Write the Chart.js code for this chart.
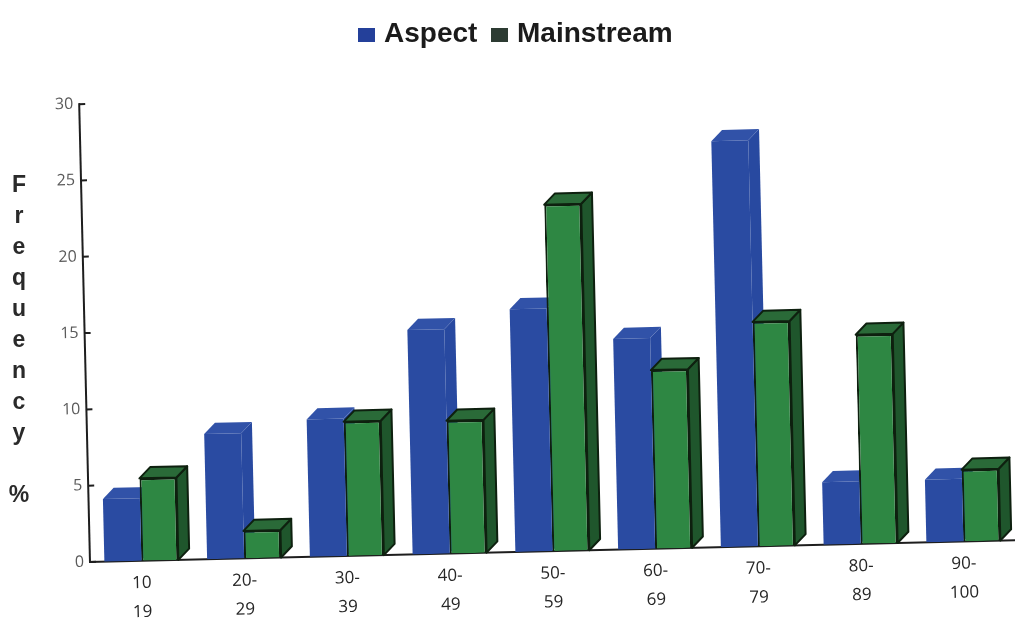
<!DOCTYPE html>
<html>
<head>
<meta charset="utf-8">
<script src="https://cdn.jsdelivr.net/npm/chart.js@4/dist/chart.umd.min.js"></script>
<style>
  html, body { margin: 0; padding: 0; background: #ffffff; }
  #wrap { width: 1015px; height: 619px; }
</style>
</head>
<body>
<div id="wrap"><canvas id="chart" width="1015" height="619"></canvas></div>
<script>
// Score bands (two-line tick labels)
const categories = [
  ['10', '19'], ['20-', '29'], ['30-', '39'], ['40-', '49'], ['50-', '59'],
  ['60-', '69'], ['70-', '79'], ['80-', '89'], ['90-', '100']
];
// Frequency (%) per band
const aspect     = [4.1, 8.2, 9.0, 14.7, 15.9, 13.8, 26.6, 4.1, 4.1];
const mainstream = [5.4, 1.8, 8.8, 8.7, 22.7, 11.7, 14.7, 13.7, 4.7];
const yTickValues = [0, 5, 10, 15, 20, 25, 30];
const seriesNames = ['Aspect', 'Mainstream'];
const yTitleLetters = ['F', 'r', 'e', 'q', 'u', 'e', 'n', 'c', 'y', '', '%'];

const COLORS = {
  blueFront: '#2a4ba2', blueTop: '#3152a8', blueSide: '#2849a0',
  greenFront: '#2e8743', greenTop: '#2a6a38', greenSide: '#1f562c',
  outline: '#0e200f', axis: '#1e1e1e',
  legendBlue: '#24409a', legendGreen: '#2c3b32'
};

// Depth of the extruded bar faces, in px
const DX = 11, DY = -11;
// The plot sits at a slight angle on the page
const TILT = -1.35 * Math.PI / 180;

function barGeom(el) {
  const p = el.getProps(['x', 'y', 'base', 'width'], true);
  return { l: p.x - p.width / 2, r: p.x + p.width / 2, y: p.y, base: p.base };
}

function drawFaces(ctx, meta, topColor, sideColor, stroke) {
  meta.data.forEach(el => {
    const g = barGeom(el);
    ctx.save();
    ctx.lineJoin = 'round';
    if (stroke) { ctx.strokeStyle = stroke; ctx.lineWidth = 2; }
    // side face
    ctx.beginPath();
    ctx.moveTo(g.r, g.y);
    ctx.lineTo(g.r + DX, g.y + DY);
    ctx.lineTo(g.r + DX, g.base + DY);
    ctx.lineTo(g.r, g.base);
    ctx.closePath();
    ctx.fillStyle = sideColor;
    ctx.fill();
    if (stroke) ctx.stroke();
    // top face
    ctx.beginPath();
    ctx.moveTo(g.l, g.y);
    ctx.lineTo(g.l + DX, g.y + DY);
    ctx.lineTo(g.r + DX, g.y + DY);
    ctx.lineTo(g.r, g.y);
    ctx.closePath();
    ctx.fillStyle = topColor;
    ctx.fill();
    if (stroke) ctx.stroke();
    ctx.restore();
  });
}

// Tilts the plot, and draws the legend and the stacked axis title upright
const tiltPlugin = {
  id: 'tilt',
  beforeDraw(chart) {
    const { ctx, chartArea: a } = chart;
    ctx.save();
    ctx.translate(a.left, a.bottom);
    ctx.rotate(TILT);
    ctx.translate(-a.left, -a.bottom);
  },
  afterDraw(chart) {
    const ctx = chart.ctx;
    ctx.restore();

    // legend
    ctx.save();
    ctx.font = 'bold 28px "Liberation Sans", Arial, sans-serif';
    ctx.textBaseline = 'alphabetic';
    ctx.textAlign = 'left';
    const swatches = [COLORS.legendBlue, COLORS.legendGreen];
    const starts = [358, 491];
    seriesNames.forEach((name, i) => {
      ctx.fillStyle = swatches[i];
      ctx.fillRect(starts[i], 28, 17, 14);
      ctx.fillStyle = '#1b1b1b';
      ctx.fillText(name, starts[i] + 26, 42);
    });
    ctx.restore();

    // vertical axis title, one letter per line
    ctx.save();
    ctx.font = 'bold 23px "Liberation Sans", Arial, sans-serif';
    ctx.fillStyle = '#2a2a2a';
    ctx.textAlign = 'center';
    ctx.textBaseline = 'alphabetic';
    yTitleLetters.forEach((ch, i) => {
      if (ch) ctx.fillText(ch, 19, 192 + i * 31);
    });
    ctx.restore();
  }
};

// Extruded faces: Aspect faces go behind everything, Mainstream faces on top
const bars3d = {
  id: 'bars3d',
  beforeDatasetsDraw(chart) {
    drawFaces(chart.ctx, chart.getDatasetMeta(0), COLORS.blueTop, COLORS.blueSide, null);
  },
  afterDatasetsDraw(chart) {
    const ctx = chart.ctx;
    drawFaces(ctx, chart.getDatasetMeta(1), COLORS.greenTop, COLORS.greenSide, COLORS.outline);
    // inward tick marks on the value axis
    const y = chart.scales.y, a = chart.chartArea;
    ctx.save();
    ctx.strokeStyle = COLORS.axis;
    ctx.lineWidth = 2;
    y.ticks.forEach(t => {
      const py = y.getPixelForValue(t.value);
      ctx.beginPath();
      ctx.moveTo(a.left, py);
      ctx.lineTo(a.left + 6, py);
      ctx.stroke();
    });
    ctx.restore();
  }
};

new Chart(document.getElementById('chart'), {
  type: 'bar',
  data: {
    labels: categories,
    datasets: [
      {
        label: seriesNames[0],
        data: aspect,
        backgroundColor: COLORS.blueFront,
        borderWidth: 0,
        categoryPercentage: 0.72,
        barPercentage: 1.0
      },
      {
        label: seriesNames[1],
        data: mainstream,
        backgroundColor: COLORS.greenFront,
        borderColor: COLORS.outline,
        borderWidth: 2,
        categoryPercentage: 0.72,
        barPercentage: 1.0
      }
    ]
  },
  options: {
    responsive: false,
    animation: false,
    devicePixelRatio: 1,
    events: [],
    layout: { padding: { top: 104, right: 0, bottom: 0, left: 0 } },
    plugins: {
      legend: { display: false },
      title: { display: false },
      tooltip: { enabled: false }
    },
    scales: {
      x: {
        grid: { display: false, drawTicks: false },
        border: { display: true, color: COLORS.axis, width: 2 },
        ticks: {
          autoSkip: false,
          maxRotation: 0,
          padding: 8,
          color: '#262626',
          font: { family: '"Open Sans", "Noto Sans", sans-serif', size: 17, lineHeight: 1.7 }
        },
        afterFit(s) { s.height = 57; }
      },
      y: {
        min: 0,
        max: 30,
        afterBuildTicks(s) { s.ticks = yTickValues.map(v => ({ value: v })); },
        grid: { display: false, drawTicks: false },
        border: { display: true, color: COLORS.axis, width: 2 },
        ticks: {
          padding: 6,
          color: '#5a5a5a',
          font: { family: '"Open Sans", "Noto Sans", sans-serif', size: 16 }
        },
        afterFit(s) { s.width = 90; }
      }
    }
  },
  plugins: [tiltPlugin, bars3d]
});
</script>
</body>
</html>
